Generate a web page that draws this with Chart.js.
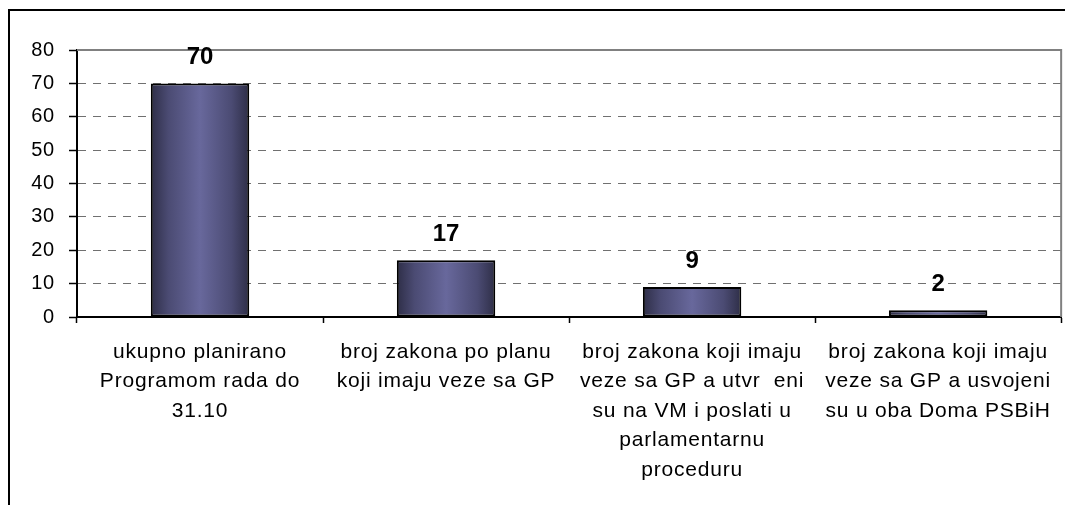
<!DOCTYPE html>
<html>
<head>
<meta charset="utf-8">
<script src="https://cdn.jsdelivr.net/npm/chart.js@4.4.1/dist/chart.umd.min.js"></script>
<style>
  html, body { margin: 0; padding: 0; background: #fff; }
  #wrap { width: 1065px; height: 505px; }
</style>
</head>
<body>
<div id="wrap"><canvas id="chart" width="1065" height="505"></canvas></div>
<script>
const categories = [
    ['ukupno planirano', 'Programom rada do', '31.10'],
    ['broj zakona po planu', 'koji imaju veze sa GP'],
    ['broj zakona koji imaju', 'veze sa GP a utvr  eni', 'su na VM i poslati u', 'parlamentarnu', 'proceduru'],
    ['broj zakona koji imaju', 'veze sa GP a usvojeni', 'su u oba Doma PSBiH']
];
const values = [70, 17, 9, 2];
const yMin = 0;
const yMax = 80;
const yStep = 10;

const FONT = '"Liberation Sans", Arial, sans-serif';
const BAR_PCT = 0.4;
const SPACING = '0.8px';

// horizontal shading across each bar, dark edges, light middle
function barFill(ctx) {
    const chart = ctx.chart;
    const xs = chart.scales && chart.scales.x;
    if (!chart.chartArea || !xs || ctx.dataIndex === undefined) return '#55557f';
    const cx = xs.getPixelForValue(ctx.dataIndex);
    const half = (xs.width / values.length) * BAR_PCT / 2;
    if (!isFinite(cx) || !half) return '#55557f';
    const g = chart.ctx.createLinearGradient(cx - half, 0, cx + half, 0);
    g.addColorStop(0, '#2e2e47');
    g.addColorStop(0.18, '#4b4b73');
    g.addColorStop(0.5, '#68689c');
    g.addColorStop(0.82, '#4b4b73');
    g.addColorStop(1, '#2e2e47');
    return g;
}

const frame = {
    id: 'frame',
    beforeLayout(chart) { chart.ctx.letterSpacing = SPACING; },
    beforeDraw(chart) {
        const c = chart.ctx;
        c.letterSpacing = SPACING;
        c.save();
        c.fillStyle = '#fff';
        c.fillRect(0, 0, chart.width, chart.height);
        c.restore();
    },
    afterDatasetsDraw(chart) {
        const c = chart.ctx, a = chart.chartArea;
        c.save();
        // plot area top/right edge
        c.strokeStyle = '#808080';
        c.lineWidth = 2;
        c.beginPath();
        c.moveTo(a.left, a.top);
        c.lineTo(a.right, a.top);
        c.lineTo(a.right, a.bottom);
        c.stroke();
        // outer chart border
        c.strokeStyle = '#000';
        c.lineWidth = 2;
        c.beginPath();
        c.moveTo(9, chart.height);
        c.lineTo(9, 10);
        c.lineTo(chart.width, 10);
        c.stroke();
        // value labels
        c.letterSpacing = '0px';
        c.fillStyle = '#000';
        c.font = 'bold 24px ' + FONT;
        c.textAlign = 'center';
        c.textBaseline = 'alphabetic';
        chart.getDatasetMeta(0).data.forEach((bar, i) => {
            c.fillText(String(values[i]), bar.x, bar.y - 19);
        });
        c.restore();
    }
};

new Chart(document.getElementById('chart'), {
    type: 'bar',
    data: {
        labels: categories,
        datasets: [{
            data: values,
            backgroundColor: barFill,
            borderColor: '#000',
            borderWidth: 2,
            borderSkipped: false,
            categoryPercentage: 1,
            barPercentage: BAR_PCT
        }]
    },
    options: {
        responsive: false,
        animation: false,
        layout: { padding: { top: 50, right: 0, left: 0, bottom: 0 } },
        plugins: { legend: { display: false }, tooltip: { enabled: false } },
        scales: {
            x: {
                grid: {
                    offset: true,
                    drawOnChartArea: false,
                    tickLength: 6,
                    tickColor: '#000',
                    tickWidth: 1.5
                },
                border: { color: '#000', width: 2 },
                ticks: {
                    color: '#000',
                    font: { family: FONT, size: 21, lineHeight: '29.5px' },
                    padding: 14,
                    maxRotation: 0,
                    autoSkip: false
                },
                afterFit(scale) { scale.height = 188; }
            },
            y: {
                min: yMin,
                max: yMax,
                grid: {
                    color: '#707070',
                    lineWidth: 1,
                    tickLength: 8,
                    tickColor: '#000',
                    tickWidth: 1.5
                },
                border: { color: '#000', width: 2, dash: [8, 7] },
                ticks: {
                    stepSize: yStep,
                    color: '#000',
                    font: { family: FONT, size: 20 },
                    padding: 14
                },
                afterFit(scale) { scale.width = 77; }
            }
        }
    },
    plugins: [frame]
});
</script>
</body>
</html>
